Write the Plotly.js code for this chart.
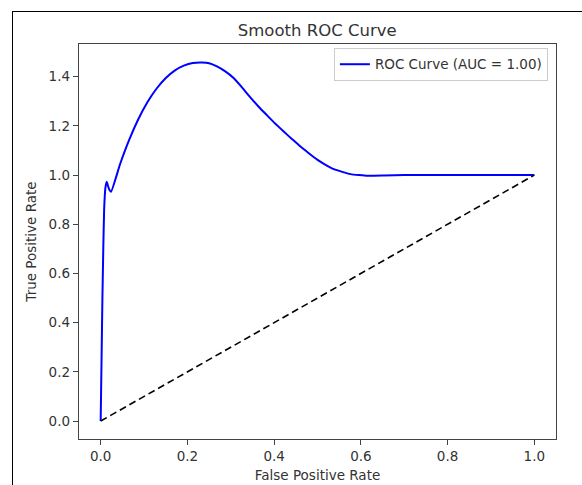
<!DOCTYPE html>
<html>
<head>
<meta charset="utf-8">
<script src="https://cdn.plot.ly/plotly-3.0.1.min.js"></script>
<style>
  html, body { margin: 0; padding: 0; width: 582px; height: 485px; overflow: hidden; background: #fff; }
  #chart { position: absolute; left: 0; top: 0; width: 582px; height: 485px; }
  #frame { position: absolute; left: 12px; top: 11px; width: 620px; height: 520px;
           border: 1.5px solid #000; pointer-events: none; }
</style>
</head>
<body>
<div id="chart"></div>
<div id="frame"></div>
<script>
// Smoothed ROC curve
const fpr = [0, 0.002, 0.004, 0.006, 0.008, 0.011, 0.014, 0.017, 0.020, 0.0238,
             0.0448, 0.0657, 0.0867, 0.1077, 0.1286, 0.1496, 0.1706, 0.1916, 0.2125, 0.2335,
             0.2503, 0.2681, 0.2873, 0.3065, 0.3259, 0.3451, 0.3643, 0.3837, 0.4029, 0.4221,
             0.4415, 0.4607, 0.4799, 0.4993, 0.5185, 0.5377, 0.5571, 0.5763, 0.5955, 0.6149,
             0.6533, 0.700, 0.800, 0.900, 1.000];
const tpr = [0, 0.25, 0.50, 0.70, 0.86, 0.95, 0.973, 0.955, 0.940, 0.932,
             1.045, 1.143, 1.227, 1.296, 1.351, 1.394, 1.425, 1.445, 1.456, 1.458,
             1.455, 1.442, 1.422, 1.395, 1.357, 1.316, 1.278, 1.243, 1.209, 1.177,
             1.146, 1.116, 1.089, 1.063, 1.042, 1.024, 1.013, 1.004, 1.000, 0.997,
             0.998, 1.000, 1.000, 1.000, 1.000];
const diagX = [0, 1];
const diagY = [0, 1];
const xTicks = [0, 0.2, 0.4, 0.6, 0.8, 1.0];
const yTicks = [0, 0.2, 0.4, 0.6, 0.8, 1.0, 1.2, 1.4];
const legendLabel = 'ROC Curve (AUC = 1.00)';

const font = 'DejaVu Sans, sans-serif';
const textColor = '#333333';
const spine = '#444444';

const traces = [
  { x: fpr, y: tpr, type: 'scatter', mode: 'lines', name: legendLabel,
    line: { color: '#0000ff', width: 2, shape: 'spline', smoothing: 0.5 } },
  { x: diagX, y: diagY, type: 'scatter', mode: 'lines', showlegend: false,
    line: { color: '#000000', width: 1.6, dash: '7px,4px' } }
];

const axisCommon = {
  showgrid: false, zeroline: false, showline: true, mirror: true,
  linecolor: spine, linewidth: 1.2, ticks: 'outside', ticklen: 5, tickwidth: 1,
  tickcolor: spine, tickformat: '.1f',
  tickfont: { family: font, size: 13.5, color: textColor }
};

const layout = {
  width: 582, height: 485,
  margin: { l: 79, r: 26, t: 44, b: 46 },
  paper_bgcolor: '#ffffff', plot_bgcolor: '#ffffff',
  title: { text: 'Smooth ROC Curve', x: 0.545, xanchor: 'center', y: 0.938, yanchor: 'middle',
           font: { family: font, size: 16.5, color: textColor } },
  xaxis: Object.assign({}, axisCommon, {
    range: [-0.05, 1.05], tickvals: xTicks,
    title: { text: 'False Positive Rate', standoff: 7,
             font: { family: font, size: 13.5, color: textColor } }
  }),
  yaxis: Object.assign({}, axisCommon, {
    range: [-0.073, 1.533], tickvals: yTicks,
    title: { text: 'True Positive Rate', standoff: 8,
             font: { family: font, size: 13.5, color: textColor } }
  }),
  showlegend: true,
  legend: { x: 0.983, xanchor: 'right', y: 0.99, yanchor: 'top', itemwidth: 30,
            bgcolor: '#ffffff', bordercolor: '#cccccc', borderwidth: 1,
            font: { family: font, size: 13.5, color: textColor } }
};

Plotly.newPlot('chart', traces, layout, { displayModeBar: false, staticPlot: true });
</script>
</body>
</html>
